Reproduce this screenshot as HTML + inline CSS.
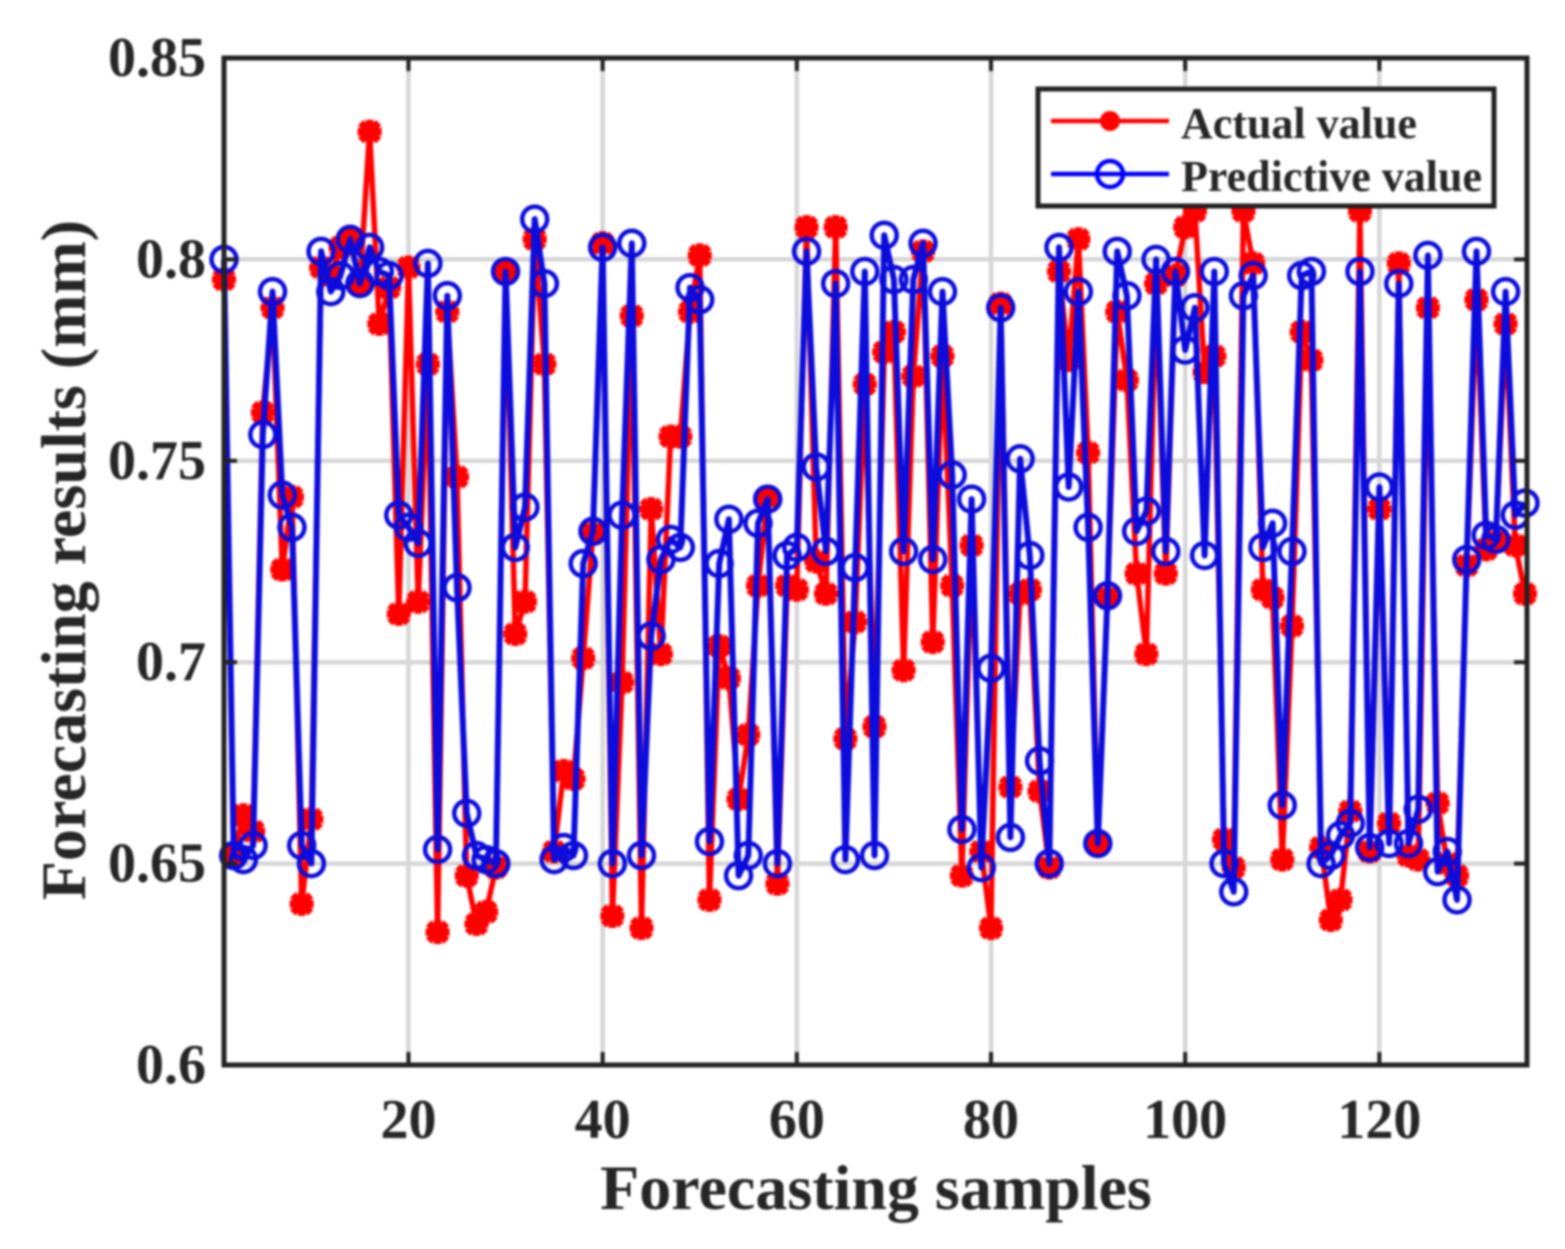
<!DOCTYPE html>
<html lang="en">
<head>
<meta charset="utf-8">
<title>Forecasting results</title>
<style>
html,body{margin:0;padding:0;background:#fff;width:1565px;height:1249px;overflow:hidden}
svg{display:block;filter:blur(1.1px)}
text{font-family:"Liberation Serif",serif;font-weight:bold;fill:#262626}
</style>
</head>
<body>
<svg id="chart" xmlns="http://www.w3.org/2000/svg" width="1565" height="1249" viewBox="0 0 1565 1249">
  <g id="grid"></g>
  <g id="actual"></g>
  <g id="predicted"></g>
  <g id="axes"></g>
  <text x="0" y="0" font-size="64" text-anchor="middle" transform="translate(85 560) rotate(-90)">Forecasting results (mm)</text>
  <text x="876" y="1209" font-size="64" text-anchor="middle">Forecasting samples</text>
  <g>
    <rect x="1038" y="89" width="456" height="117" fill="#fff" stroke="#222" stroke-width="5"/>
    <g>
      <line x1="1051" y1="121" x2="1169" y2="121" stroke="#f00" stroke-width="4.5"/>
      <circle cx="1110" cy="121" r="10" fill="#f00"/>
      <text x="1181" y="138" font-size="44">Actual value</text>
    </g>
    <g>
      <line x1="1051" y1="174" x2="1169" y2="174" stroke="#00f" stroke-width="4.5"/>
      <circle cx="1110" cy="174" r="13" fill="none" stroke="#00f" stroke-width="4.5"/>
      <text x="1181" y="191" font-size="44">Predictive value</text>
    </g>
  </g>
</svg>
<script>
const xTicks = [20, 40, 60, 80, 100, 120];
const yTicks = [0.6, 0.65, 0.7, 0.75, 0.8, 0.85];
const yTickLabels = ["0.6", "0.65", "0.7", "0.75", "0.8", "0.85"];
const actualValues = [
0.795,0.652,0.662,0.658,0.762,0.788,0.723,0.741,0.640,0.661,
0.798,0.796,0.803,0.805,0.794,0.8317,0.784,0.793,0.712,0.798,
0.715,0.774,0.633,0.787,0.746,0.647,0.635,0.638,0.649,0.797,
0.707,0.715,0.805,0.774,0.653,0.673,0.671,0.701,0.732,0.804,
0.637,0.695,0.786,0.634,0.738,0.702,0.756,0.756,0.787,0.801,
0.641,0.704,0.696,0.666,0.682,0.719,0.741,0.645,0.719,0.718,
0.808,0.725,0.717,0.808,0.681,0.710,0.769,0.684,0.777,0.782,
0.698,0.771,0.802,0.705,0.776,0.719,0.647,0.729,0.653,0.634,
0.789,0.669,0.717,0.718,0.668,0.649,0.797,0.775,0.805,0.752,
0.655,0.716,0.787,0.770,0.722,0.702,0.794,0.722,0.796,0.808,
0.812,0.772,0.776,0.656,0.649,0.812,0.799,0.718,0.716,0.651,
0.709,0.782,0.775,0.654,0.636,0.641,0.663,0.812,0.653,0.738,
0.660,0.799,0.652,0.651,0.788,0.665,0.650,0.647,0.724,0.790,
0.728,0.730,0.784,0.729,0.717];
const predictedValues = [
0.800,0.652,0.651,0.6545,0.7565,0.792,0.7415,0.7335,0.6545,0.650,
0.802,0.792,0.796,0.805,0.794,0.803,0.797,0.796,0.7365,0.7335,
0.7295,0.799,0.6535,0.791,0.7185,0.6625,0.652,0.651,0.650,0.797,
0.7285,0.7385,0.810,0.794,0.651,0.654,0.652,0.7245,0.7325,0.803,
0.650,0.7365,0.804,0.652,0.7065,0.7255,0.7305,0.7285,0.793,0.790,
0.6555,0.7245,0.7355,0.647,0.652,0.7345,0.7405,0.650,0.7265,0.7285,
0.802,0.7485,0.7275,0.794,0.651,0.7235,0.797,0.652,0.806,0.795,
0.7275,0.795,0.804,0.7255,0.792,0.7465,0.6585,0.7405,0.649,0.6985,
0.788,0.6565,0.7505,0.7265,0.6755,0.650,0.803,0.7435,0.792,0.7335,
0.655,0.7165,0.802,0.791,0.7325,0.7375,0.800,0.7275,0.797,0.7775,
0.788,0.7265,0.797,0.650,0.643,0.791,0.796,0.7285,0.7345,0.6645,
0.7275,0.796,0.797,0.650,0.652,0.657,0.660,0.797,0.654,0.7435,
0.655,0.794,0.655,0.6635,0.801,0.648,0.653,0.641,0.7255,0.802,
0.7315,0.7305,0.792,0.7365,0.7395];

const NS = 'http://www.w3.org/2000/svg';
const plot = {left: 224, right: 1527, top: 58, bottom: 1065};
const xDataRight = 1525;
const xMin = 1, xMax = 135, yMin = 0.6, yMax = 0.85;
function xScale(v) { return plot.left + (v - xMin) / (xMax - xMin) * (xDataRight - plot.left); }
function yScale(v) { return plot.bottom - (v - yMin) / (yMax - yMin) * (plot.bottom - plot.top); }
function make(tag, attrs, parent) {
  const el = document.createElementNS(NS, tag);
  for (const k in attrs) el.setAttribute(k, attrs[k]);
  parent.appendChild(el);
  return el;
}
const gridG = document.getElementById('grid');
const axesG = document.getElementById('axes');
const actualG = document.getElementById('actual');
const predictedG = document.getElementById('predicted');

xTicks.forEach(function (t) {
  const gl = make('line', {x1: xScale(t), x2: xScale(t), y1: plot.top, y2: plot.bottom, stroke: '#d6d6d6', 'stroke-width': 4.5}, gridG);
  
  
});
yTicks.slice(1, -1).forEach(function (t) {
  const gl = make('line', {x1: plot.left, x2: plot.right, y1: yScale(t), y2: yScale(t), stroke: '#d6d6d6', 'stroke-width': 4.5}, gridG);
  
  
});

function asteriskPath(cx, cy) {
  return 'M' + (cx - 12) + ' ' + cy + 'H' + (cx + 12) +
    'M' + cx + ' ' + (cy - 12) + 'V' + (cy + 12) +
    'M' + (cx - 9) + ' ' + (cy - 9) + 'L' + (cx + 9) + ' ' + (cy + 9) +
    'M' + (cx - 9) + ' ' + (cy + 9) + 'L' + (cx + 9) + ' ' + (cy - 9);
}

function drawSeries(values, group, color, isActual) {
  const pts = values.map(function (v, i) { return xScale(i + 1).toFixed(1) + ',' + yScale(v).toFixed(1); }).join(' ');
  const line = make('polyline', {points: pts, fill: 'none', stroke: color, 'stroke-width': isActual ? 5.5 : 6, 'stroke-linejoin': 'round'}, group);
  
  
  values.forEach(function (v, i) {
    const cx = xScale(i + 1), cy = yScale(v);
    const m = isActual
      ? make('path', {d: asteriskPath(cx, cy), fill: 'none', stroke: color, 'stroke-width': 7.5}, group)
      : make('circle', {cx: cx, cy: cy, r: 12.5, fill: 'none', stroke: color, 'stroke-width': 4.5}, group);
    
    
  });
}
drawSeries(actualValues, actualG, '#f00', true);
drawSeries(predictedValues, predictedG, '#0c0cdc', false);

const frame = make('rect', {x: plot.left, y: plot.top, width: plot.right - plot.left, height: plot.bottom - plot.top, fill: 'none', stroke: '#222', 'stroke-width': 5}, axesG);



xTicks.forEach(function (t) {
  const x = xScale(t);
  [[plot.bottom, plot.bottom - 13], [plot.top, plot.top + 13]].forEach(function (p) {
    const tk = make('line', {x1: x, x2: x, y1: p[0], y2: p[1], stroke: '#222', 'stroke-width': 4}, axesG);
    
    
  });
  const lb = make('text', {x: x, y: 1138, 'font-size': 56, 'text-anchor': 'middle'}, axesG);
  lb.textContent = String(t);
  
  
});
yTicks.forEach(function (t, i) {
  const y = yScale(t);
  [[plot.left, plot.left + 13], [plot.right, plot.right - 13]].forEach(function (p) {
    const tk = make('line', {x1: p[0], x2: p[1], y1: y, y2: y, stroke: '#222', 'stroke-width': 4}, axesG);
    
    
  });
  const lb = make('text', {x: 206, y: y + 18, 'font-size': 56, 'text-anchor': 'end'}, axesG);
  lb.textContent = yTickLabels[i];
  
  
});
</script>
</body>
</html>
